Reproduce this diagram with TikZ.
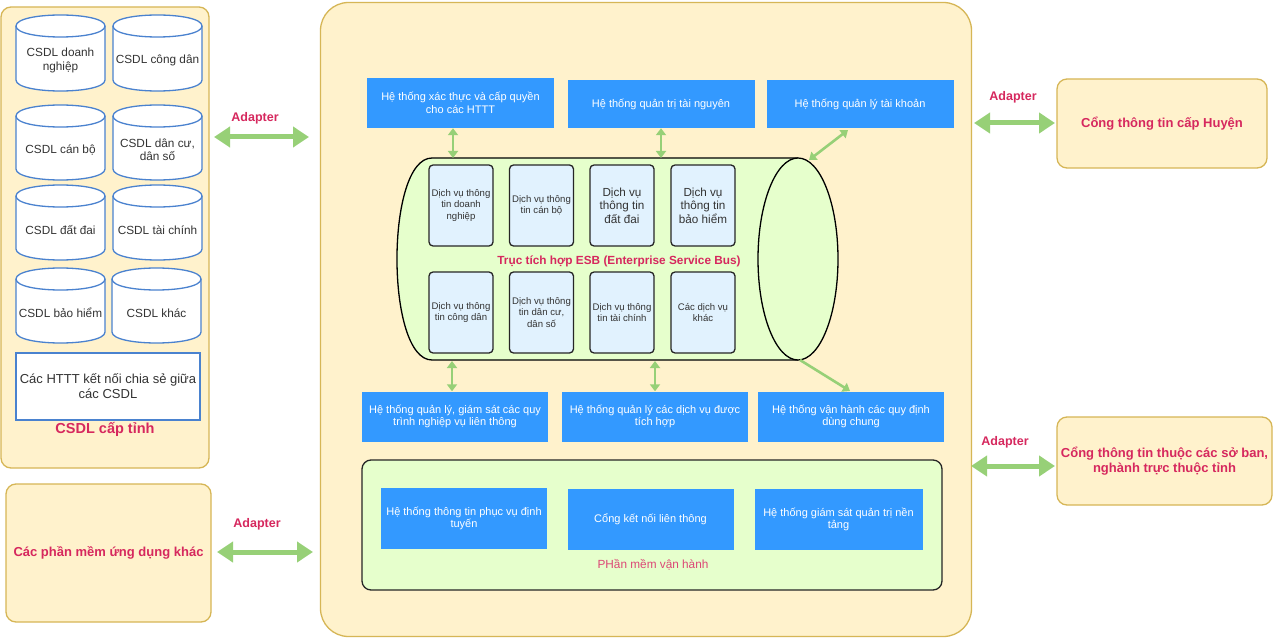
\documentclass[tikz,border=0pt]{standalone}
\usepackage{fontspec}
\setmainfont{Liberation Sans}
\usetikzlibrary{arrows.meta}
\definecolor{panelfill}{HTML}{FFF2CC}
\definecolor{panelline}{HTML}{D6B656}
\definecolor{bluebox}{HTML}{3399FF}
\definecolor{crim}{HTML}{D6285E}
\definecolor{garrow}{HTML}{97D077}
\definecolor{esbfill}{HTML}{E6FFCC}
\definecolor{svcfill}{HTML}{E1F2FE}
\definecolor{dbline}{HTML}{4A82CF}
\definecolor{txtgray}{HTML}{333333}
\newcommand\dbcyl[6]{%
  \pgfmathsetmacro\dbYa{#3+11}\pgfmathsetmacro\dbYb{#5-11}%
  \pgfmathsetmacro\dbYat{#3+11-14.67}\pgfmathsetmacro\dbYab{#3+11+14.67}%
  \pgfmathsetmacro\dbYbb{#5-11+14.67}%
  \filldraw[dbshape] (#2,\dbYa) -- (#2,\dbYb) .. controls (#2,\dbYbb) and (#4,\dbYbb) .. (#4,\dbYb) -- (#4,\dbYa) .. controls (#4,\dbYat) and (#2,\dbYat) .. (#2,\dbYa) -- cycle;
  \draw[dbshape] (#2,\dbYa) .. controls (#2,\dbYab) and (#4,\dbYab) .. (#4,\dbYa);
  \node[dbtext] (#1) at ({(#2+#4)/2},{(#3+#5)/2+7.5}) {#6};
}
\begin{document}
\begin{tikzpicture}[x=1pt,y=-1pt,
  panel/.style={draw=panelline, fill=panelfill, line width=1.3pt, rounded corners=10pt, inner sep=0pt},
  bbox/.style={fill=bluebox, text=white, align=center, font=\fontsize{11}{12.8}\selectfont, inner sep=0pt},
  svc/.style={draw=black!85, fill=svcfill, line width=1.3pt, rounded corners=4pt, align=center, text=txtgray, minimum width=64pt, minimum height=81pt, inner sep=0pt},
  svcsmall/.style={svc, font=\fontsize{9.6}{11.2}\selectfont},
  svcbig/.style={svc, font=\fontsize{11.7}{13.5}\selectfont},
  dbshape/.style={draw=dbline, fill=white, line width=1.3pt},
  dbtext/.style={align=center, text=txtgray, font=\fontsize{11.8}{13.3}\selectfont},
  bigred/.style={text=crim, font=\bfseries\fontsize{13}{15}\selectfont, align=center},
  adapt/.style={text=crim, font=\bfseries\fontsize{12.5}{14}\selectfont},
  fatarr/.style={draw=garrow, line width=5pt, {Triangle[length=16pt,width=20pt]}-{Triangle[length=16pt,width=20pt]}},
  garr/.style={draw=garrow, line width=2.6pt, {Triangle[length=7pt,width=10pt]}-{Triangle[length=7pt,width=10pt]}},
  garrone/.style={draw=garrow, line width=2.6pt, -{Triangle[length=7pt,width=10pt]}}
]
\useasboundingbox (0,0) rectangle (1274,639);
\fill[white] (0,0) rectangle (1274,639);

% ---------- left panel ----------
\node[panel, minimum width=208pt, minimum height=461pt] (left) at (105,237.5) {};
\dbcyl{db1}{16}{15}{105}{91}{CSDL doanh\\nghiệp}
\dbcyl{db2}{113}{15}{202}{91}{CSDL công dân}
\dbcyl{db3}{16}{105}{105}{180}{CSDL cán bộ}
\dbcyl{db4}{113}{105}{202}{180}{CSDL dân cư,\\dân số}
\dbcyl{db5}{16}{185}{105}{260}{CSDL đất đai}
\dbcyl{db6}{113}{185}{202}{260}{CSDL tài chính}
\dbcyl{db7}{16}{268}{105}{343}{CSDL bảo hiểm}
\dbcyl{db8}{112}{268}{201}{343}{CSDL khác}
\node[draw=dbline, fill=white, line width=1.5pt, minimum width=184pt, minimum height=67pt, align=center, text=txtgray, font=\fontsize{13}{15}\selectfont, inner sep=0pt] (httt) at (108,386.5) {Các HTTT kết nối chia sẻ giữa\\các CSDL};
\node[bigred, font=\bfseries\fontsize{14.5}{16}\selectfont] (csdltinh) at (105,429) {CSDL cấp tỉnh};

% ---------- other left / right boxes ----------
\node[panel, minimum width=205pt, minimum height=138pt] (khac) at (108.5,553) {};
\node[bigred] (khact) at (khac) {Các phần mềm ứng dụng khác};
\node[panel, minimum width=210pt, minimum height=89pt] (huyen) at (1162,123.5) {};
\node[bigred] (huyent) at (huyen) {Cổng thông tin cấp Huyện};
\node[panel, minimum width=215pt, minimum height=88pt] (soban) at (1164.5,461) {};
\node[bigred] (sobant) at (soban) {Cổng thông tin thuộc các sở ban,\\nghành trực thuộc tỉnh};

% ---------- main panel ----------
\node[panel, rounded corners=28pt, minimum width=651pt, minimum height=634pt] (main) at (646,319.5) {};

% top blue boxes
\node[bbox, minimum width=187pt, minimum height=50pt] (b1) at (460.5,103) {Hệ thống xác thực và cấp quyền\\cho các HTTT};
\node[bbox, minimum width=187pt, minimum height=48pt] (b2) at (661,104) {Hệ thống quản trị tài nguyên};
\node[bbox, minimum width=187pt, minimum height=48pt] (b3) at (860,104) {Hệ thống quản lý tài khoản};

% ESB cylinder
\fill[esbfill] (432,158) -- (798,158) -- (798,360) -- (432,360) .. controls (385.3,360) and (385.3,158) .. (432,158) -- cycle;
\draw[line width=1.3pt] (798,158) -- (432,158) .. controls (385.3,158) and (385.3,360) .. (432,360) -- (798,360);
\draw[fill=esbfill, line width=1.3pt] (798,259) ellipse [x radius=40pt, y radius=101pt];
\coordinate (cyltop1) at (453,158);
\coordinate (cyltop2) at (661,158);
\coordinate (cyltop3) at (809,160);
\coordinate (cylbot1) at (452,361);
\coordinate (cylbot2) at (655,361);
\coordinate (cylbot3) at (800,360);

\node[svcsmall] (s1) at (461,205.5) {Dịch vụ thông\\tin doanh\\nghiệp};
\node[svcsmall] (s2) at (541.5,205.5) {Dịch vụ thông\\tin cán bộ};
\node[svcbig] (s3) at (622,205.5) {Dịch vụ\\thông tin\\đất đai};
\node[svcbig] (s4) at (703,205.5) {Dịch vụ\\thông tin\\bảo hiểm};
\node[text=crim, font=\bfseries\fontsize{11.8}{13}\selectfont] (esb) at (619,261) {Trục tích hợp ESB (Enterprise Service Bus)};
\node[svcsmall] (s5) at (461,312.5) {Dịch vụ thông\\tin công dân};
\node[svcsmall] (s6) at (541.5,312.5) {Dịch vụ thông\\tin dân cư,\\dân số};
\node[svcsmall] (s7) at (622,312.5) {Dịch vụ thông\\tin tài chính};
\node[svcsmall] (s8) at (703,312.5) {Các dịch vụ\\khác};

% bottom blue boxes
\node[bbox, minimum width=186pt, minimum height=50pt] (b4) at (455,416.5) {Hệ thống quản lý, giám sát các quy\\trình nghiệp vụ liên thông};
\node[bbox, minimum width=186pt, minimum height=50pt] (b5) at (655,416.5) {Hệ thống quản lý các dịch vụ được\\tích hợp};
\node[bbox, minimum width=186pt, minimum height=50pt] (b6) at (851,416.5) {Hệ thống vận hành các quy định\\dùng chung};

% operation software
\node[draw=black!85, fill=esbfill, line width=1.3pt, rounded corners=9pt, minimum width=580pt, minimum height=130pt, inner sep=0pt] (ops) at (652,525) {};
\node[bbox, minimum width=166pt, minimum height=61pt] (o1) at (464,518.5) {Hệ thống thông tin phục vụ định\\tuyến};
\node[bbox, minimum width=166pt, minimum height=61pt] (o2) at (650.5,519.5) {Cổng kết nối liên thông};
\node[bbox, minimum width=168pt, minimum height=61pt] (o3) at (838.5,519.5) {Hệ thống giám sát quản trị nền\\tảng};
\node[text=crim!85, font=\fontsize{11.8}{13}\selectfont] (opst) at (653,565) {PHần mềm vận hành};

% arrows inside
\draw[garr] (b1.south -| cyltop1) -- (cyltop1);
\draw[garr] (b2.south) -- (cyltop2);
\draw[garr] (848,130) coordinate (b3a) -- (cyltop3);
\draw[garr] (cylbot1) -- (b4.north -| cylbot1);
\draw[garr] (cylbot2) -- (b5.north);
\draw[garrone] (cylbot3) -- (850,391) coordinate (b6a);

% adapter arrows
\coordinate (a1s) at (214,137); \coordinate (a1e) at (309,137);
\draw[fatarr] (a1s) -- (a1e);
\node[adapt] (ad1) at (255,118) {Adapter};
\coordinate (a2s) at (217,552); \coordinate (a2e) at (313,552);
\draw[fatarr] (a2s) -- (a2e);
\node[adapt] (ad2) at (257,524) {Adapter};
\coordinate (a3s) at (974,123); \coordinate (a3e) at (1055,123);
\draw[fatarr] (a3s) -- (a3e);
\node[adapt] (ad3) at (1013,97) {Adapter};
\coordinate (a4s) at (971,466); \coordinate (a4e) at (1055,466);
\draw[fatarr] (a4s) -- (a4e);
\node[adapt] (ad4) at (1005,442) {Adapter};
\end{tikzpicture}
\end{document}
